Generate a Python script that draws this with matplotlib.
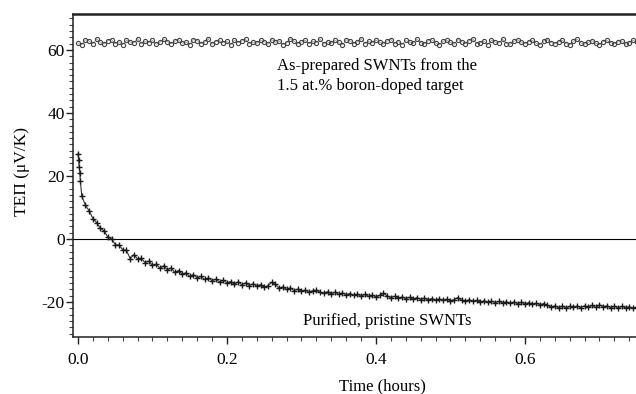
import numpy as np
import matplotlib
matplotlib.use("Agg")
import matplotlib.pyplot as plt
from matplotlib.ticker import MultipleLocator

plt.rcParams['font.family'] = ['Liberation Serif', 'DejaVu Serif']
plt.rcParams['axes.unicode_minus'] = False

# as-prepared (boron-doped target) series, sampled every 0.005 h
upper_t = np.arange(151) * 0.005
upper_v = [
    62.1, 61.6, 63.2, 62.8, 61.9, 63.5, 62.4, 61.8, 62.9, 63.3, 62.0, 62.6, 61.7, 63.1, 62.5, 62.2, 63.6, 61.9, 62.7, 62.3,
    63.0, 61.8, 62.4, 63.4, 62.6, 61.9, 62.8, 63.2, 62.1, 62.5, 61.7, 63.3, 62.9, 62.0, 62.4, 63.5, 61.8, 62.6, 63.0, 62.2,
    62.7, 61.6, 63.1, 62.3, 62.8, 63.4, 61.9, 62.5, 62.1, 63.0, 62.6, 61.8, 63.3, 62.4, 62.9, 61.7, 62.2, 63.5, 62.7, 62.0,
    62.5, 63.1, 61.9, 62.8, 62.3, 63.4, 61.8, 62.6, 62.1, 63.0, 62.4, 61.6, 63.2, 62.9, 62.0, 62.5, 63.6, 61.9, 62.7, 62.2,
    63.1, 62.4, 61.8, 62.8, 63.3, 62.0, 62.6, 61.7, 63.0, 62.5, 62.1, 63.4, 62.3, 61.9, 62.9, 63.2, 62.2, 61.6, 62.7, 63.0,
    62.4, 61.8, 63.3, 62.6, 62.0, 62.9, 63.5, 61.9, 62.3, 62.8, 61.7, 63.1, 62.5, 62.2, 63.4, 62.0, 61.8, 62.7, 63.2, 62.4,
    61.9, 62.6, 63.0, 62.1, 61.7, 62.8, 63.3, 62.3, 61.9, 62.5, 63.1, 62.0, 61.6, 62.7, 63.4, 62.2, 61.8, 62.4, 62.9, 62.1,
    61.7, 62.6, 63.0, 62.3, 61.9, 62.5, 62.8, 61.8, 62.2, 63.1, 62.4,
]

# purified, pristine series: first few readings right at t=0, then every 0.005 h
early_t = [0.0, 0.0008, 0.0016, 0.0024, 0.0032]
early_v = [27.0, 25.0, 23.0, 21.0, 18.5]
lower_v = [
    13.6, 10.8, 8.9, 6.5, 5.2, 3.4, 2.6, 0.6, 0.1, -1.8,
    -1.9, -3.4, -3.6, -6.2, -5.0, -6.3, -6.1, -7.5, -7.0, -8.4,
    -8.0, -9.3, -8.5, -9.8, -9.2, -10.6, -10.0, -11.2, -10.7, -11.9,
    -11.3, -12.3, -11.9, -12.8, -12.4, -13.2, -12.8, -13.6, -13.1, -13.9,
    -13.5, -14.3, -13.6, -14.5, -13.9, -14.8, -14.2, -14.9, -14.5, -15.3,
    -14.8, -13.8, -14.4, -15.6, -15.2, -16.0, -15.5, -16.4, -15.9, -16.6,
    -16.2, -16.9, -16.4, -16.3, -16.9, -17.2, -16.7, -17.4, -16.9, -17.6,
    -17.1, -17.7, -17.3, -17.9, -17.5, -18.1, -17.6, -18.2, -17.8, -18.4,
    -17.9, -17.2, -18.1, -18.6, -18.2, -18.8, -18.4, -18.9, -18.5, -19.1,
    -18.6, -19.2, -18.8, -19.3, -18.9, -19.4, -19.0, -19.5, -19.1, -19.6,
    -19.2, -18.6, -19.4, -19.7, -19.3, -19.8, -19.5, -20.0, -19.6, -20.1,
    -19.7, -20.2, -19.8, -20.3, -19.9, -20.4, -20.0, -20.5, -20.1, -20.6,
    -20.2, -20.7, -20.4, -20.8, -20.5, -21.0, -21.6, -21.2, -21.8, -21.3,
    -21.9, -21.4, -21.7, -21.3, -21.8, -21.2, -21.6, -21.1, -21.7, -20.9,
    -21.5, -21.2, -21.8, -21.3, -21.9, -21.4, -21.8, -21.5, -22.0, -21.6,
]
lower_t = np.concatenate([early_t, (np.arange(len(lower_v)) + 1) * 0.005])
lower_all = early_v + lower_v

fig = plt.figure(figsize=(6.36, 3.94), dpi=100)
ax = fig.add_axes([73 / 636, 57 / 394, 1 - 73 / 636, 323 / 394])

ax.axhline(0, color='black', linewidth=0.8)
ax.plot(upper_t, upper_v, color='#888888', linewidth=0.5, marker='o', ms=3.0,
        mfc='none', mec='#444444', mew=0.8)
ax.plot(lower_t, lower_all, color='#333333', linewidth=0.8,
        marker='+', ms=4.5, mec='#1a1a1a', mew=1.0)

ax.set_xlim(-0.0067, 0.749)
ax.set_ylim(-31.1, 71.4)

ax.xaxis.set_major_locator(MultipleLocator(0.2))
ax.xaxis.set_minor_locator(MultipleLocator(0.02))
ax.yaxis.set_major_locator(MultipleLocator(20))
ax.yaxis.set_minor_locator(MultipleLocator(2))
ax.set_xticks([0.0, 0.2, 0.4, 0.6])
ax.set_xticklabels(['0.0', '0.2', '0.4', '0.6'])
ax.set_yticks([-20, 0, 20, 40, 60])
ax.set_yticklabels(['-20', '0', '20', '40', '60'])

ax.tick_params(which='major', direction='out', length=5, width=1.0,
               labelsize=12.5, color='#222222')
ax.tick_params(which='minor', direction='out', length=3, width=0.8, color='#444444')
ax.tick_params(axis='y', pad=1)
ax.tick_params(axis='x', pad=6)

ax.spines['right'].set_visible(False)
ax.spines['top'].set_linewidth(1.8)
ax.spines['left'].set_linewidth(1.1)
ax.spines['bottom'].set_linewidth(1.1)
for s in ax.spines.values():
    s.set_color('#222222')

ax.text(0.267, 54.9, 'As-prepared SWNTs from the', fontsize=12, va='center', ha='left')
ax.text(0.267, 48.6, '1.5 at.% boron-doped target', fontsize=12, va='center', ha='left')
ax.text(0.302, -26.0, 'Purified, pristine SWNTs', fontsize=12, va='center', ha='left')

fig.text(382 / 636, 1 - 386 / 394, 'Time (hours)', fontsize=12, ha='center', va='center')
fig.text(22 / 636, 1 - 172 / 394, 'TEΠ (μV/K)', fontsize=12.5, ha='center', va='center',
         rotation=90)

fig.savefig('out.png', dpi=100)
